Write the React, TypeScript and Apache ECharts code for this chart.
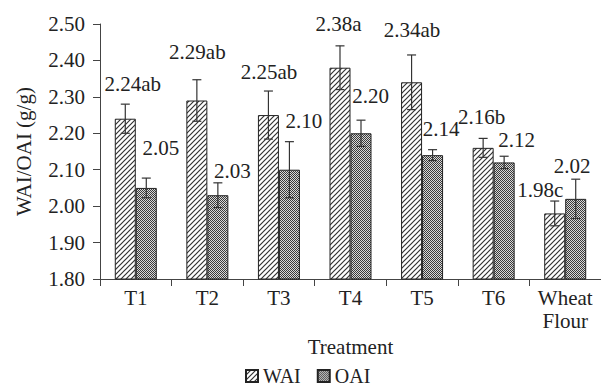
import React, { useEffect, useRef } from "react";
import * as echarts from "echarts";

const categories = ["T1", "T2", "T3", "T4", "T5", "T6", "Wheat\nFlour"];
const waiValues = [2.24, 2.29, 2.25, 2.38, 2.34, 2.16, 1.98];
const oaiValues = [2.05, 2.03, 2.1, 2.2, 2.14, 2.12, 2.02];
const waiErrors = [0.04, 0.057, 0.066, 0.06, 0.075, 0.026, 0.034];
const oaiErrors = [0.027, 0.034, 0.077, 0.036, 0.015, 0.017, 0.054];
const waiLabels = ["2.24ab", "2.29ab", "2.25ab", "2.38a", "2.34ab", "2.16b", "1.98c"];
const oaiLabels = ["2.05", "2.03", "2.10", "2.20", "2.14", "2.12", "2.02"];
const yTicks = { min: 1.8, max: 2.5, interval: 0.1 };

// label placement (style): offsets from the default "top" label spot
const waiLabelOffsets = [[7.5, -25], [0.5, -39], [0.5, -33], [-1.5, -34], [0.5, -42], [-1.5, -20.6], [-14.5, -13]];
const oaiLabelOffsets = [[14.5, -30], [14.5, -14], [14.5, -39], [9.5, -27.7], [8.5, -15.7], [12.5, -12], [-3.5, -22.5]];

const FONT = "'Liberation Serif', 'Times New Roman', 'DejaVu Serif', serif";
const TXT = "#222";
const BAR_W = 21;

function makeHatch(): HTMLCanvasElement {
  const c = document.createElement("canvas");
  const s = 5;
  c.width = s;
  c.height = s;
  const ctx = c.getContext("2d")!;
  ctx.fillStyle = "#fff";
  ctx.fillRect(0, 0, s, s);
  ctx.strokeStyle = "#333";
  ctx.lineWidth = 1.2;
  ctx.beginPath();
  ctx.moveTo(-1, s + 1);
  ctx.lineTo(s + 1, -1);
  ctx.moveTo(-1, 1);
  ctx.lineTo(1, -1);
  ctx.moveTo(s - 1, s + 1);
  ctx.lineTo(s + 1, s - 1);
  ctx.stroke();
  return c;
}

function makeChecker(): HTMLCanvasElement {
  const c = document.createElement("canvas");
  c.width = 2;
  c.height = 2;
  const ctx = c.getContext("2d")!;
  ctx.fillStyle = "#d8d8d8";
  ctx.fillRect(0, 0, 2, 2);
  ctx.fillStyle = "#3a3a3a";
  ctx.fillRect(0, 0, 1, 1);
  ctx.fillRect(1, 1, 1, 1);
  return c;
}

export default function App() {
  const ref = useRef<HTMLDivElement>(null);
  useEffect(() => {
    if (!ref.current) return;
    const chart = echarts.init(ref.current, null, { renderer: "svg" });
    const hatch = { image: makeHatch(), repeat: "repeat" } as any;
    const checker = { image: makeChecker(), repeat: "repeat" } as any;

    const errRender = (sign: number) => (params: any, api: any) => {
      const i = api.value(0);
      const v = api.value(1);
      const e = api.value(2);
      const top = api.coord([i, v + e]);
      const bot = api.coord([i, v - e]);
      const x = top[0] + (sign * BAR_W) / 2;
      const cap = 4.5;
      const st = { stroke: "#333", lineWidth: 1.2 };
      return {
        type: "group",
        children: [
          { type: "line", shape: { x1: x, y1: top[1], x2: x, y2: bot[1] }, style: st },
          { type: "line", shape: { x1: x - cap, y1: top[1], x2: x + cap, y2: top[1] }, style: st },
          { type: "line", shape: { x1: x - cap, y1: bot[1], x2: x + cap, y2: bot[1] }, style: st },
        ],
      };
    };

    const labelStyle = {
      show: true,
      position: "top",
      distance: 0,
      fontFamily: FONT,
      fontSize: 21,
      lineHeight: 20,
      color: TXT,
    };

    chart.setOption({
      animation: false,
      textStyle: { fontFamily: FONT, color: TXT },
      grid: { left: 100, top: 24, height: 255, width: 504 },
      legend: {
        data: ["WAI", "OAI"],
        left: 245,
        top: 366,
        padding: 0,
        itemWidth: 12,
        itemHeight: 12,
        itemGap: 16,
        icon: "rect",
        textStyle: { fontFamily: FONT, fontSize: 20, lineHeight: 20, color: TXT },
      },
      xAxis: {
        type: "category",
        data: categories,
        axisLine: { lineStyle: { color: "#444", width: 1 } },
        axisTick: { show: true, length: 7, lineStyle: { color: "#444" } },
        axisLabel: { fontFamily: FONT, fontSize: 21, color: TXT, margin: 7, lineHeight: 23 },
        name: "Treatment",
        nameLocation: "middle",
        nameGap: 51,
        nameTextStyle: { fontFamily: FONT, fontSize: 21, color: TXT },
      },
      yAxis: {
        type: "value",
        min: yTicks.min,
        max: yTicks.max,
        interval: yTicks.interval,
        axisLine: { show: true, lineStyle: { color: "#444", width: 1 } },
        axisTick: { show: true, length: 7, lineStyle: { color: "#444" } },
        splitLine: { show: false },
        axisLabel: {
          fontFamily: FONT,
          fontSize: 21,
          color: TXT,
          margin: 15,
          formatter: (v: number) => v.toFixed(2),
        },
        name: "WAI/OAI (g/g)",
        nameLocation: "middle",
        nameGap: 66,
        nameTextStyle: { fontFamily: FONT, fontSize: 21, color: TXT },
      },
      series: [
        {
          name: "WAI",
          type: "bar",
          barWidth: BAR_W,
          barGap: "0%",
          itemStyle: { color: hatch, borderColor: "#222", borderWidth: 1 },
          data: waiValues.map((v, i) => ({
            value: v,
            label: { ...labelStyle, offset: waiLabelOffsets[i], formatter: waiLabels[i] },
          })),
        },
        {
          name: "OAI",
          type: "bar",
          barWidth: BAR_W,
          barGap: "0%",
          itemStyle: { color: checker, borderColor: "#222", borderWidth: 1 },
          data: oaiValues.map((v, i) => ({
            value: v,
            label: { ...labelStyle, offset: oaiLabelOffsets[i], formatter: oaiLabels[i] },
          })),
        },
        {
          name: "WAI err",
          type: "custom",
          renderItem: errRender(-1),
          data: waiValues.map((v, i) => [i, v, waiErrors[i]]),
          encode: { x: 0, y: 1 },
          z: 5,
        },
        {
          name: "OAI err",
          type: "custom",
          renderItem: errRender(1),
          data: oaiValues.map((v, i) => [i, v, oaiErrors[i]]),
          encode: { x: 0, y: 1 },
          z: 5,
        },
      ],
    });
    return () => chart.dispose();
  }, []);
  return (
    <div
      ref={ref}
      style={{ position: "fixed", left: 0, top: 0, width: 601, height: 388, background: "#fff" }}
    />
  );
}
